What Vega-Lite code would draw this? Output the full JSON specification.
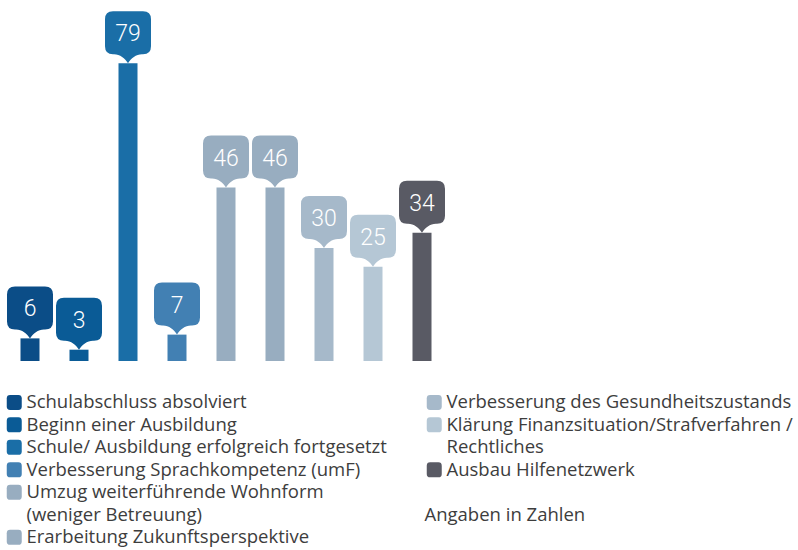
{
  "$schema": "https://vega.github.io/schema/vega-lite/v6.json",
  "width": 441,
  "height": 361,
  "autosize": "none",
  "padding": {"left": 5.5, "top": 0, "right": 351.5, "bottom": 189},
  "background": "white",
  "config": {"view": {"stroke": null}},
  "data": {
    "values": [
      {"cat": "Schulabschluss absolviert", "value": 6},
      {"cat": "Beginn einer Ausbildung", "value": 3},
      {"cat": "Schule/ Ausbildung erfolgreich fortgesetzt", "value": 79},
      {"cat": "Verbesserung Sprachkompetenz (umF)", "value": 7},
      {"cat": "Umzug weiterführende Wohnform", "value": 46},
      {"cat": "Erarbeitung Zukunftsperspektive", "value": 46},
      {"cat": "Verbesserung des Gesundheitszustands", "value": 30},
      {"cat": "Klärung Finanzsituation/Strafverfahren /", "value": 25},
      {"cat": "Ausbau Hilfenetzwerk", "value": 34}
    ]
  },
  "encoding": {
    "x": {"field": "cat", "type": "nominal", "sort": null, "axis": null,
          "scale": {"paddingInner": 0, "paddingOuter": 0}},
    "y": {"field": "value", "type": "quantitative", "axis": null,
          "scale": {"domain": [0, 95.75], "nice": false, "zero": true}},
    "color": {
      "field": "cat", "type": "nominal",
      "scale": {
        "domain": [
          "Schulabschluss absolviert",
          "Beginn einer Ausbildung",
          "Schule/ Ausbildung erfolgreich fortgesetzt",
          "Verbesserung Sprachkompetenz (umF)",
          "Umzug weiterführende Wohnform",
          "(weniger Betreuung)",
          "Erarbeitung Zukunftsperspektive",
          "Verbesserung des Gesundheitszustands",
          "Klärung Finanzsituation/Strafverfahren /",
          "Rechtliches",
          "Ausbau Hilfenetzwerk",
          "_b1",
          "Angaben in Zahlen",
          "_b2"
        ],
        "range": [
          "#0b4d87",
          "#0a5b96",
          "#1a6ea7",
          "#4280b3",
          "#98adc0",
          "rgba(0,0,0,0)",
          "#98adc0",
          "#a6b9ca",
          "#b5c7d5",
          "rgba(0,0,0,0)",
          "#595a64",
          "rgba(0,0,0,0)",
          "rgba(0,0,0,0)",
          "rgba(0,0,0,0)"
        ]
      },
      "legend": {
        "orient": "none",
        "legendX": -0.5,
        "legendY": 393,
        "columns": 2,
        "title": null,
        "symbolType": "M-1,-0.55 Q-1,-1 -0.55,-1 L0.55,-1 Q1,-1 1,-0.55 L1,0.55 Q1,1 0.55,1 L-0.55,1 Q-1,1 -1,0.55 Z",
        "symbolSize": 225,
        "symbolStrokeWidth": 0,
        "symbolOpacity": 1,
        "labelFont": "Open Sans",
        "labelFontSize": 18.5,
        "labelColor": "#3d3d3d",
        "labelLimit": 0,
        "labelOffset": 3,
        "rowPadding": 3.5,
        "columnPadding": 37,
        "labelExpr": "indexof(datum.label, '_b') === 0 ? '' : datum.label",
        "encode": {
          "labels": {"update": {"dx": {"signal": "datum.label === 'Angaben in Zahlen' ? -22 : 0"}}}
        }
      }
    }
  },
  "layer": [
    {"mark": {"type": "bar", "width": 19}},
    {
      "mark": {
        "type": "point",
        "shape": "M0,0 C-3,-5 -8,-9 -14,-9 L-15,-9 Q-23,-9 -23,-17 L-23,-44 Q-23,-52 -15,-52 L15,-52 Q23,-52 23,-44 L23,-17 Q23,-9 15,-9 L14,-9 C8,-9 3,-5 0,0 Z",
        "size": 4,
        "filled": true,
        "opacity": 1,
        "strokeWidth": 0
      }
    },
    {
      "mark": {
        "type": "text",
        "baseline": "alphabetic",
        "dy": -22,
        "font": "Roboto",
        "fontWeight": 300,
        "fontSize": 23
      },
      "encoding": {
        "text": {"field": "value", "type": "quantitative"},
        "color": {"value": "white"}
      }
    }
  ]
}
